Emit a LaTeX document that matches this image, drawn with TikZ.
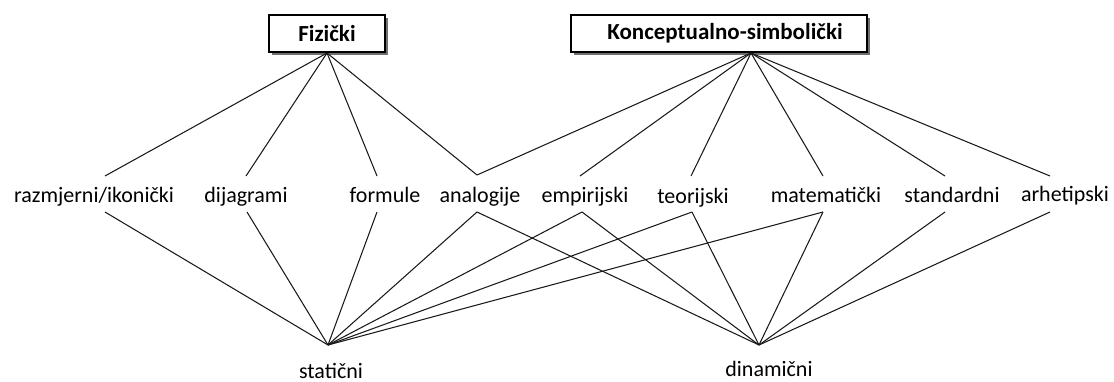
\documentclass[tikz,border=0pt]{standalone}
\usepackage{fontspec}
\setmainfont{Carlito}
\usetikzlibrary{shadows}
\begin{document}
\begin{tikzpicture}[x=1pt,y=-1pt,
  box/.style={draw=black, line width=1.4pt, fill=white,
    font=\bfseries\fontsize{23}{25}\selectfont, minimum height=37pt, inner sep=0pt,
    drop shadow={shadow xshift=3pt, shadow yshift=-3pt, fill=black!75, opacity=0.75}},
  lab/.style={font=\fontsize{22}{24}\selectfont, anchor=base, inner sep=0pt},
  link/.style={line width=1.05pt, black!90}]
\useasboundingbox (0,0) rectangle (1114,382);
% top boxes
\node[box, minimum width=116pt] (fiz) at (327,33.5) {Fizički};
\node[box, minimum width=296pt] (kon) at (719,33.5) {\hspace*{12pt}Konceptualno-simbolički};
\coordinate (fizS) at (327,53);
\coordinate (konS) at (751,53);
% middle labels
\node[lab] (raz) at (94,203) {razmjerni/ikonički};
\node[lab] (dij) at (246,203) {dijagrami};
\node[lab] (for) at (385,203) {formule};
\node[lab] (ana) at (480,203) {analogije};
\node[lab] (emp) at (585,203) {empirijski};
\node[lab] (teo) at (693,204) {teorijski};
\node[lab] (mat) at (826,203) {matematički};
\node[lab] (sta) at (952,203) {standardni};
\node[lab] (arh) at (1065,202) {arhetipski};
% attachment points
\coordinate (razT) at (105,176); \coordinate (razB) at (105,212);
\coordinate (dijT) at (246,176); \coordinate (dijB) at (247,212);
\coordinate (forT) at (377,176); \coordinate (forB) at (377,212);
\coordinate (anaT) at (477,175); \coordinate (anaB) at (477,212);
\coordinate (empT) at (580,176); \coordinate (empB) at (582,212);
\coordinate (teoT) at (691,176); \coordinate (teoB) at (692,212);
\coordinate (matT) at (823,176); \coordinate (matB) at (823,212);
\coordinate (staT) at (945,176); \coordinate (staB) at (945,212);
\coordinate (arhT) at (1050,176); \coordinate (arhB) at (1050,212);
% bottom labels
\node[lab] (stat) at (331,378) {statični};
\node[lab] (din) at (769,376) {dinamični};
\coordinate (statP) at (328,345);
\coordinate (dinP) at (759,345);
% connectors from top
\foreach \t in {raz,dij,for,ana} \draw[link] (fizS) -- (\t T);
\foreach \t in {ana,emp,teo,mat,sta,arh} \draw[link] (konS) -- (\t T);
% connectors to bottom
\foreach \t in {raz,dij,for,ana,emp,teo,mat} \draw[link] (\t B) -- (statP);
\foreach \t in {ana,emp,teo,mat,sta,arh} \draw[link] (\t B) -- (dinP);
\end{tikzpicture}
\end{document}
